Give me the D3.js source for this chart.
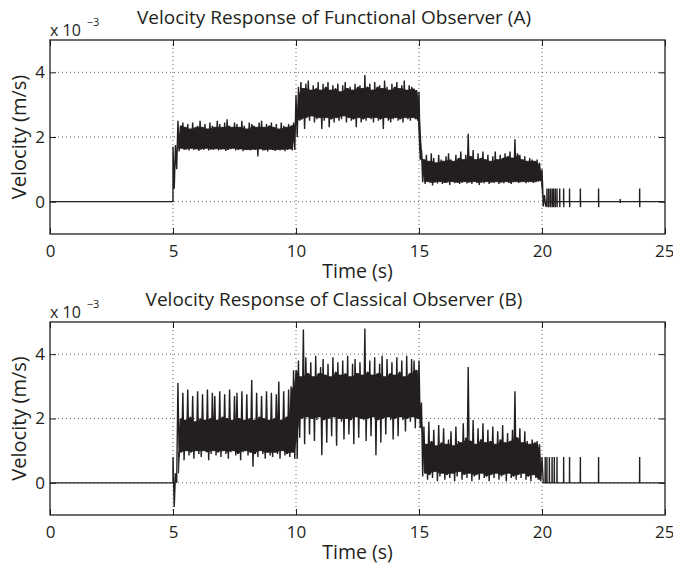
<!DOCTYPE html>
<html><head><meta charset="utf-8">
<script src="https://cdn.jsdelivr.net/npm/d3@7"></script>
<style>body{margin:0;background:#fff}svg{display:block}text{font-family:"Open Sans","Noto Sans",sans-serif;fill:#231f20}</style>
</head><body>
<svg id="c" width="673" height="566"></svg>
<script>
// ---------- data ----------
const xTicks = [0, 5, 10, 15, 20, 25];
const yTicks = [0, 2, 4];
const titles = ["Velocity Response of Functional Observer (A)", "Velocity Response of Classical Observer (B)"];
const xLabel = "Time (s)";
const yLabel = "Velocity (m/s)";
const binStart = 5.0, binStep = 0.1;   // envelope bins (s)

// Observer A : max / min of velocity (x1e-3 m/s) in each 0.1 s bin from 5.0 s
const hiA = [1.70,1.75,2.50,2.35,2.45,2.30,2.40,2.25,2.45,2.30,2.35,2.50,
 2.30,2.40,2.25,2.45,2.35,2.30,2.50,2.40,2.30,2.45,
 2.55,2.35,2.30,2.45,2.40,2.30,2.50,2.35,2.25,2.45,
 2.40,2.35,2.30,2.45,2.50,2.30,2.40,2.35,2.45,2.30,
 2.40,2.25,2.45,2.35,2.30,2.40,2.35,2.45,
 3.30,3.55,3.70,3.50,3.65,3.75,3.45,3.60,3.50,3.70,
 3.45,3.65,3.55,3.70,3.45,3.60,3.50,3.65,3.40,3.60,
 3.70,3.50,3.55,3.45,3.65,3.55,3.60,3.50,3.92,3.55,
 3.65,3.45,3.70,3.55,3.60,3.50,3.75,3.55,3.45,3.65,
 3.55,3.70,3.50,3.60,3.75,3.45,3.60,3.55,3.50,3.45,
 3.40,1.60,1.30,1.45,1.25,1.50,1.35,1.20,1.45,1.30,
 1.25,1.40,1.50,1.30,1.25,1.45,1.35,1.55,1.30,1.45,
 2.10,1.40,1.60,1.30,1.50,1.35,1.55,1.30,1.45,1.25,
 1.40,1.55,1.30,1.45,1.35,1.50,1.40,1.55,1.35,1.93,
 1.50,1.45,1.30,1.40,1.25,1.35,1.30,1.25,1.30,1.20,
 1.00,0.20];
const loA = [0.40,1.00,1.55,1.65,1.60,1.62,1.58,1.65,1.60,1.63,1.57,1.62,
 1.60,1.65,1.58,1.62,1.60,1.64,1.58,1.61,1.63,1.57,
 1.60,1.62,1.65,1.58,1.60,1.63,1.56,1.61,1.60,1.58,
 1.62,1.60,1.40,1.63,1.58,1.60,1.55,1.62,1.60,1.57,
 1.61,1.58,1.62,1.56,1.60,1.63,1.58,1.60,
 2.00,2.50,2.55,2.25,2.60,2.50,2.65,2.45,2.55,2.60,
 2.25,2.50,2.60,2.30,2.55,2.45,2.60,2.50,2.55,2.65,
 2.45,2.60,2.50,2.55,2.30,2.60,2.45,2.55,2.50,2.60,
 2.55,2.45,2.60,2.50,2.55,2.25,2.60,2.50,2.45,2.55,
 2.60,2.50,2.55,2.45,2.60,2.55,2.50,2.60,2.55,2.50,
 1.30,0.60,0.55,0.62,0.58,0.50,0.60,0.56,0.62,0.55,
 0.58,0.60,0.52,0.62,0.57,0.60,0.55,0.58,0.62,0.56,
 0.60,0.55,0.62,0.58,0.52,0.60,0.57,0.62,0.55,0.60,
 0.58,0.62,0.55,0.60,0.57,0.62,0.58,0.55,0.60,0.62,
 0.58,0.60,0.62,0.57,0.60,0.62,0.58,0.60,0.62,0.65,
 -0.15,-0.15];
const spikeTA  = [20.20,20.27,20.34,20.41,20.47,20.54,20.61,20.72,20.88,21.12,21.56,22.30,23.18,23.97];
const spikeHiA = [0.41,0.41,0.41,0.41,0.41,0.41,0.41,0.41,0.41,0.41,0.41,0.41,0.08,0.41];
const spikeLoA = [-0.17,-0.17,-0.17,-0.17,-0.17,-0.17,-0.17,-0.17,-0.17,-0.17,-0.17,-0.17,-0.04,-0.17];

// Observer B
const hiB = [0.80,0.30,3.10,2.00,2.80,1.95,2.90,2.05,2.70,1.90,
 2.85,2.00,2.75,1.95,2.90,2.00,2.80,2.70,1.95,2.85,
 2.05,2.75,2.00,2.90,1.95,2.70,2.80,2.00,2.85,1.95,
 2.75,2.00,3.20,1.95,2.80,2.05,2.70,2.00,2.85,1.95,
 2.80,2.00,2.75,3.15,1.95,2.85,2.05,2.90,3.00,3.50,
 3.50,3.80,3.30,4.77,3.90,3.40,3.75,3.30,3.95,3.40,
 3.60,3.85,3.35,3.70,3.30,3.90,3.45,3.75,3.35,3.80,
 3.40,3.95,3.30,3.70,3.85,3.40,3.75,3.35,4.80,3.45,
 3.80,3.35,3.90,3.40,3.70,3.95,3.30,3.85,3.40,3.75,
 3.35,3.90,3.45,3.80,3.30,3.95,3.40,3.85,3.80,3.50,
 3.80,2.50,1.75,1.20,1.90,1.30,1.65,1.15,1.80,1.25,
 1.70,1.20,1.35,1.60,1.15,1.75,1.30,1.25,1.85,1.40,
 3.60,1.30,1.95,1.20,1.70,1.35,1.85,1.25,1.65,1.30,
 1.75,1.20,1.60,1.35,1.80,1.25,1.55,1.30,1.65,2.85,
 1.40,1.70,1.25,1.60,1.30,1.20,1.35,1.25,1.30,1.20,
 0.80];
const loB = [-0.75,0.00,0.80,0.95,0.70,1.00,0.85,0.95,0.75,1.00,
 0.90,0.80,1.00,0.95,0.70,0.90,1.00,0.85,0.95,0.80,
 1.00,0.90,0.75,0.95,1.00,0.85,0.90,0.70,0.95,1.00,
 0.85,0.95,0.50,0.90,0.80,1.00,0.90,0.75,0.95,0.85,
 0.80,0.95,0.90,0.75,1.00,0.85,0.90,0.80,0.95,0.75,
 0.75,1.40,2.00,1.20,2.05,1.50,2.00,1.30,1.95,2.05,
 0.86,1.95,1.25,2.00,1.45,2.05,1.15,2.00,1.90,1.35,
 2.00,1.50,1.95,1.20,2.05,1.40,2.00,1.95,1.30,2.00,
 1.45,2.05,0.86,1.95,1.25,2.00,1.50,2.05,1.95,1.35,
 2.00,1.45,2.05,1.95,1.60,2.00,1.90,2.05,1.70,2.00,
 1.70,0.20,0.30,0.10,0.25,0.15,0.35,0.05,0.20,0.30,
 0.10,0.25,0.15,0.30,0.05,0.20,0.35,0.10,0.25,0.15,
 0.30,0.05,0.20,0.25,0.10,0.30,0.15,0.20,0.05,0.25,
 0.15,0.30,0.10,0.20,0.25,0.05,0.30,0.15,0.20,0.10,
 0.25,0.15,0.30,0.10,0.20,0.05,0.25,0.15,0.10,0.05,
 0.00];
const spikeTB  = [20.13,20.20,20.30,20.41,20.50,20.61,20.88,21.12,21.56,22.30,23.97];
const spikeHiB = [0.80,0.80,0.80,0.80,0.80,0.80,0.80,0.80,0.80,0.80,0.80];
const spikeLoB = [0,0,0,0,0,0,0,0,0,0,0];

// ---------- drawing ----------
const svg = d3.select("#c");
const ink = "#231f20";
const L = 50, R = 665;
const panels = [
  {top: 40, bottom: 234, hi: hiA, lo: loA, st: spikeTA, sh: spikeHiA, sl: spikeLoA, title: titles[0]},
  {top: 322, bottom: 515, hi: hiB, lo: loB, st: spikeTB, sh: spikeHiB, sl: spikeLoB, title: titles[1]}
];
const x = d3.scaleLinear().domain([0, 25]).range([L, R]);

panels.forEach(p => {
  const y = d3.scaleLinear().domain([-1, 5]).range([p.bottom, p.top]);
  const g = svg.append("g");
  // grid
  g.selectAll(".gx").data(xTicks.filter(d => d > 0 && d < 25)).join("line")
    .attr("x1", d => x(d)).attr("x2", d => x(d)).attr("y1", p.top).attr("y2", p.bottom)
    .attr("stroke", "#555").attr("stroke-width", 0.9).attr("stroke-dasharray", "1,3");
  g.selectAll(".gy").data(yTicks).join("line")
    .attr("y1", d => y(d)).attr("y2", d => y(d)).attr("x1", L).attr("x2", R)
    .attr("stroke", "#555").attr("stroke-width", 0.9).attr("stroke-dasharray", "1,3");

  // dense core of the signal: between neighbouring bin envelopes
  const n = p.hi.length;
  const core = p.hi.map((h, i) => {
    const a = Math.max(0, i - 1), b = Math.min(n - 1, i + 1);
    return {
      t: binStart + i * binStep + binStep / 4,
      top: Math.min(p.hi[a], h, p.hi[b]),
      bot: Math.max(p.lo[a], p.lo[i], p.lo[b])
    };
  }).slice(2, n - 1);
  g.append("path").attr("d", d3.area().x(d => x(d.t)).y0(d => y(d.bot)).y1(d => y(d.top))(core))
    .attr("fill", ink).attr("stroke", ink).attr("stroke-width", 0.8);

  // raw signal path
  const pts = [[0, 0], [binStart, 0]];
  p.hi.forEach((h, i) => {
    const t = binStart + i * binStep;
    pts.push([t, h]);
    pts.push([t + binStep / 2, p.lo[i]]);
  });
  pts.push([binStart + n * binStep, 0]);
  p.st.forEach((t, i) => {
    pts.push([t - 0.004, 0]); pts.push([t, p.sh[i]]); pts.push([t + 0.004, p.sl[i]]); pts.push([t + 0.008, 0]);
  });
  pts.push([25, 0]);
  g.append("path").attr("d", d3.line().x(d => x(d[0])).y(d => y(d[1]))(pts))
    .attr("fill", "none").attr("stroke", ink).attr("stroke-width", 1.4).attr("stroke-linejoin", "bevel");

  // axes (ticks inward on all sides)
  const tl = 6;
  const xb = g.append("g").attr("transform", `translate(0,${p.bottom})`)
    .call(d3.axisBottom(x).tickValues(xTicks).tickSize(-tl).tickPadding(11))
    .call(a => a.select(".domain").remove());
  xb.selectAll(".tick text").filter(d => d === 25).attr("text-anchor", "end").attr("dx", 9);
  g.append("g").attr("transform", `translate(0,${p.top})`)
    .call(d3.axisTop(x).tickValues(xTicks).tickSize(-tl).tickFormat(""))
    .call(a => a.select(".domain").remove());
  g.append("g").attr("transform", `translate(${L},0)`)
    .call(d3.axisLeft(y).tickValues(yTicks).tickSize(-tl).tickPadding(5).tickFormat(d3.format("d")))
    .call(a => a.select(".domain").remove());
  g.append("g").attr("transform", `translate(${R},0)`)
    .call(d3.axisRight(y).tickValues(yTicks).tickSize(-tl).tickFormat(""))
    .call(a => a.select(".domain").remove());
  g.selectAll(".tick line").attr("stroke", ink).attr("stroke-width", 1);
  g.selectAll(".tick text").attr("font-size", 17).attr("fill", ink)
    .style("font-family", '"Open Sans","Noto Sans",sans-serif');
  g.append("rect").attr("x", L).attr("y", p.top).attr("width", R - L).attr("height", p.bottom - p.top)
    .attr("fill", "none").attr("stroke", ink).attr("stroke-width", 1.3);

  // labels
  g.append("text").attr("x", 334).attr("y", p.top - 23).attr("text-anchor", "middle")
    .attr("dominant-baseline", "central").attr("font-size", 19).text(p.title);
  g.append("text").attr("x", (L + R) / 2).attr("y", p.bottom + 36).attr("text-anchor", "middle")
    .attr("dominant-baseline", "central").attr("font-size", 19.5).text(xLabel);
  g.append("text").attr("transform", `translate(18,${(p.top + p.bottom) / 2}) rotate(-90)`)
    .attr("text-anchor", "middle").attr("dominant-baseline", "central").attr("font-size", 20).text(yLabel);
  const ex = g.append("text").attr("x", 50).attr("y", p.top - 4).attr("font-size", 16);
  ex.append("tspan").text("x 10");
  ex.append("tspan").attr("dx", 6).attr("dy", -10).attr("font-size", 11).text("\u22123");
});
</script>
</body></html>
